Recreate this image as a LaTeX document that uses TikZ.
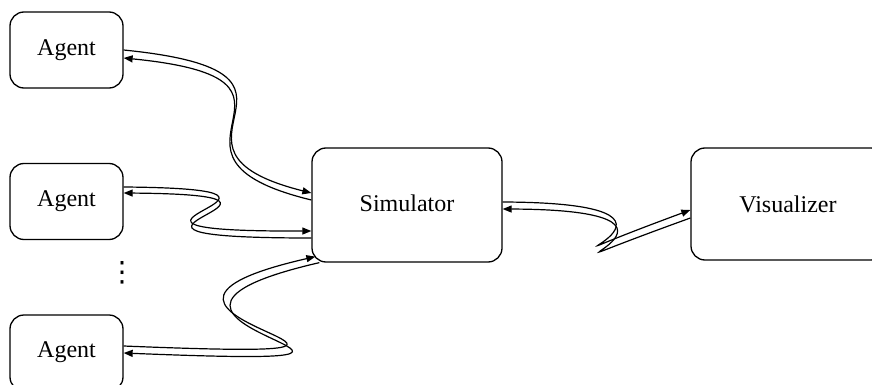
\documentclass[tikz,border=0pt]{standalone}
\usepackage{fontspec}
\setmainfont{Liberation Serif}
\newfontfamily\symfont{DejaVu Sans}
\usetikzlibrary{arrows.meta}
\begin{document}
\begin{tikzpicture}[x=0.5pt,y=-0.5pt,
  box/.style={draw, line width=0.65pt, rounded corners=7pt, font=\fontsize{12}{14}\selectfont, inner sep=0pt},
  agentbox/.style={box, minimum width=56.5pt, minimum height=38pt},
  conn/.style={line width=0.6pt},
  tip/.style={-{Triangle[length=4.5pt,width=3.5pt]}}]
\useasboundingbox (0,0) rectangle (872,385);
\clip (0,0) rectangle (872,385);
\node[agentbox] (a1) at (66.5,50) {\raisebox{-1.25pt}{Agent}};
\node[agentbox] (a2) at (66.5,201.5) {\raisebox{-1.5pt}{Agent}};
\node[agentbox] (a3) at (66.5,353) {\raisebox{3pt}{Agent}};
\node[box, minimum width=95pt, minimum height=57pt] (sim) at (407,205) {\raisebox{2pt}{Simulator}};
\node[box, minimum width=97pt, minimum height=56pt] (vis) at (788,204) {\raisebox{-3pt}{Visualizer}};
\node[inner sep=0pt, font=\symfont\fontsize{14}{14}\selectfont] (dots) at (122,273) {⋮};
% Agent 1 <-> Simulator
\draw[conn,tip] (a1.east) .. controls (353,73) and (132,148) .. ([yshift=6pt]sim.west);
\draw[conn,tip] ([yshift=2.5pt]sim.west) .. controls (126,155) and (347,80) .. ([yshift=-4pt]a1.east);
% Agent 2 <-> Simulator
\draw[conn,tip] ([yshift=7.25pt]a2.east) .. controls (368,189) and (33,232) .. ([yshift=-13pt]sim.west);
\draw[conn,tip] ([yshift=-16.5pt]sim.west) .. controls (30,238) and (365,195) .. ([yshift=4.25pt]a2.east);
% Agent 3 <-> Simulator
\draw[conn,tip] ([yshift=3.5pt]a3.east) .. controls (515,362) and (46,318) .. ([xshift=2pt,yshift=3pt]sim.south west);
\draw[conn,tip] ([xshift=4pt]sim.south west) .. controls (48,325) and (519,369) .. (a3.east);
% Simulator <-> Visualizer
\draw[conn,tip] ([yshift=1.5pt]sim.east) .. controls (760,203) and (468,292) .. ([yshift=-3pt]vis.west);
\draw[conn,tip] ([yshift=-7pt]vis.west) .. controls (466,299) and (758,210) .. ([yshift=-2pt]sim.east);
\end{tikzpicture}
\end{document}
